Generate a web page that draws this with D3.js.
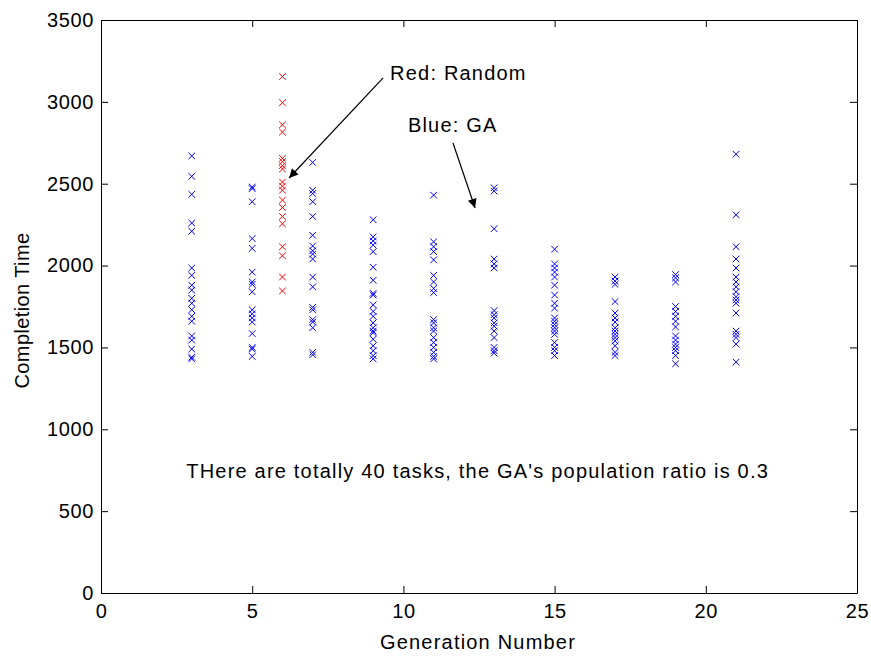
<!DOCTYPE html>
<html>
<head>
<meta charset="utf-8">
<script src="https://cdn.jsdelivr.net/npm/d3@7"></script>
<style>
  html, body { margin: 0; padding: 0; background: #ffffff; }
  svg { display: block; }
  text { font-family: "Liberation Sans", Arial, Helvetica, sans-serif; fill: #000; }
</style>
</head>
<body>
<svg id="chart" width="871" height="659"></svg>
<script>
// GA runs: completion time of each individual at the recorded generations
const gaGenerations = [3, 5, 7, 9, 11, 13, 15, 17, 19, 21];
const gaGen3  = [2670, 2545, 2435, 2260, 2210, 1985, 1940, 1880, 1850, 1800, 1770, 1730, 1690, 1660, 1570, 1545, 1490, 1440, 1430];
const gaGen5  = [2480, 2470, 2390, 2165, 2105, 1960, 1900, 1885, 1840, 1730, 1705, 1680, 1655, 1585, 1500, 1490, 1445];
const gaGen7  = [2630, 2460, 2440, 2390, 2300, 2185, 2120, 2090, 2070, 2040, 1930, 1870, 1745, 1730, 1670, 1655, 1620, 1470, 1455];
const gaGen9  = [2280, 2175, 2150, 2125, 2085, 1990, 1910, 1830, 1820, 1760, 1720, 1690, 1650, 1620, 1600, 1590, 1550, 1510, 1480, 1450, 1430];
const gaGen11 = [2430, 2145, 2115, 2085, 2035, 1940, 1900, 1860, 1835, 1670, 1650, 1620, 1600, 1560, 1530, 1500, 1470, 1445, 1430];
const gaGen13 = [2475, 2455, 2225, 2040, 2010, 1985, 1725, 1700, 1680, 1650, 1630, 1600, 1560, 1500, 1480, 1465];
const gaGen15 = [2100, 2010, 1985, 1960, 1930, 1880, 1820, 1770, 1740, 1680, 1660, 1640, 1620, 1600, 1580, 1530, 1500, 1480, 1450];
const gaGen17 = [1930, 1905, 1885, 1780, 1710, 1680, 1655, 1620, 1600, 1580, 1560, 1540, 1510, 1470, 1450];
const gaGen19 = [1945, 1925, 1900, 1750, 1720, 1690, 1660, 1625, 1570, 1545, 1520, 1500, 1480, 1450, 1400];
const gaGen21 = [2680, 2310, 2115, 2040, 1985, 1930, 1900, 1870, 1840, 1810, 1790, 1770, 1710, 1600, 1580, 1560, 1520, 1410];
const gaTimes = [gaGen3, gaGen5, gaGen7, gaGen9, gaGen11, gaGen13, gaGen15, gaGen17, gaGen19, gaGen21];

// Random scheduling: one population, plotted at generation 6
const randomGeneration = 6;
const randomTimes = [3155, 2995, 2860, 2815, 2655, 2635, 2610, 2590, 2510, 2485, 2460, 2400, 2355, 2300, 2255, 2115, 2060, 1930, 1845];

// Axis ticks
const xTicks = [0, 5, 10, 15, 20, 25];
const yTicks = [0, 500, 1000, 1500, 2000, 2500, 3000, 3500];

// Annotations (data coordinates)
const labelRed  = { text: "Red: Random", x: 9.56, y: 3134 };
const labelBlue = { text: "Blue: GA", x: 10.15, y: 2816 };
const arrowRed  = { from: [9.33, 3146], to: [6.22, 2535] };
const arrowBlue = { from: [11.64, 2749], to: [12.37, 2352] };
const note = { text: "THere are totally 40 tasks, the GA's population ratio is 0.3", x: 2.82, y: 700 };

const svg = d3.select("#chart");
const m = { left: 101, right: 857, top: 20, bottom: 593 };

const x = d3.scaleLinear().domain([0, 25]).range([m.left, m.right]);
const y = d3.scaleLinear().domain([0, 3500]).range([m.bottom, m.top]);

const FONT = 20;
const TICK_SPACING = "0.6px";
const SPACING = "1.2px";
const tickLen = 7;

// Axes frame with inward ticks on all four sides
const g = svg.append("g");

const axisBottom = d3.axisBottom(x).tickValues(xTicks).tickSizeInner(-tickLen).tickSizeOuter(0).tickPadding(11).tickFormat(d3.format("d"));
const axisLeft = d3.axisLeft(y).tickValues(yTicks).tickSizeInner(-tickLen).tickSizeOuter(0).tickPadding(7).tickFormat(d3.format("d"));
const axisTop = d3.axisTop(x).tickValues(xTicks).tickSizeInner(-tickLen).tickSizeOuter(0).tickFormat("");
const axisRight = d3.axisRight(y).tickValues(yTicks).tickSizeInner(-tickLen).tickSizeOuter(0).tickFormat("");

function styleAxis(sel) {
  sel.select(".domain").attr("stroke", "#000").attr("stroke-width", 1);
  sel.selectAll(".tick line").attr("stroke", "#000").attr("stroke-width", 1);
  sel.selectAll(".tick text")
    .attr("font-family", "Liberation Sans, Arial, sans-serif")
    .attr("font-size", FONT)
    .attr("letter-spacing", TICK_SPACING)
    .attr("fill", "#000");
}

g.append("g").attr("transform", `translate(0,${m.bottom})`).call(axisBottom).call(styleAxis);
g.append("g").attr("transform", `translate(${m.left},0)`).call(axisLeft).call(styleAxis);
g.append("g").attr("transform", `translate(0,${m.top})`).call(axisTop).call(styleAxis);
g.append("g").attr("transform", `translate(${m.right},0)`).call(axisRight).call(styleAxis);

// x-shaped markers
const half = 3.3;
function cross(sel, color) {
  sel.append("path")
    .attr("d", d => `M${d.px - half},${d.py - half}L${d.px + half},${d.py + half}M${d.px - half},${d.py + half}L${d.px + half},${d.py - half}`)
    .attr("stroke", color)
    .attr("stroke-width", 1)
    .attr("fill", "none");
}

const gaPoints = [];
gaGenerations.forEach((gen, i) => gaTimes[i].forEach(t => gaPoints.push({ px: x(gen), py: y(t) })));
const randomPoints = randomTimes.map(t => ({ px: x(randomGeneration), py: y(t) }));

const marks = svg.append("g");
marks.selectAll("g.ga").data(gaPoints).join("g").attr("class", "ga").call(cross, "#0000ff");
marks.selectAll("g.rnd").data(randomPoints).join("g").attr("class", "rnd").call(cross, "#ff0000");

// Axis titles
svg.append("text")
  .attr("x", 478).attr("y", 649)
  .attr("text-anchor", "middle")
  .attr("font-size", FONT).attr("letter-spacing", SPACING)
  .text("Generation Number");

svg.append("text")
  .attr("transform", `translate(29,${(m.top + m.bottom) / 2 + 4}) rotate(-90)`)
  .attr("text-anchor", "middle")
  .attr("font-size", FONT).attr("letter-spacing", "0.4px")
  .text("Completion Time");

// Annotation labels
[labelRed, labelBlue, note].forEach(l => {
  svg.append("text")
    .attr("x", x(l.x)).attr("y", y(l.y))
    .attr("font-size", FONT).attr("letter-spacing", SPACING)
    .text(l.text);
});

// Arrows
const defs = svg.append("defs");
defs.append("marker")
  .attr("id", "head")
  .attr("viewBox", "0 0 10 10")
  .attr("refX", 10).attr("refY", 5)
  .attr("markerWidth", 17).attr("markerHeight", 9)
  .attr("markerUnits", "userSpaceOnUse")
  .attr("orient", "auto")
  .append("path").attr("d", "M0,0L10,5L0,10Z").attr("fill", "#000");

[arrowRed, arrowBlue].forEach(a => {
  svg.append("line")
    .attr("x1", x(a.from[0])).attr("y1", y(a.from[1]))
    .attr("x2", x(a.to[0])).attr("y2", y(a.to[1]))
    .attr("stroke", "#000").attr("stroke-width", 1.2)
    .attr("marker-end", "url(#head)");
});
</script>
</body>
</html>
